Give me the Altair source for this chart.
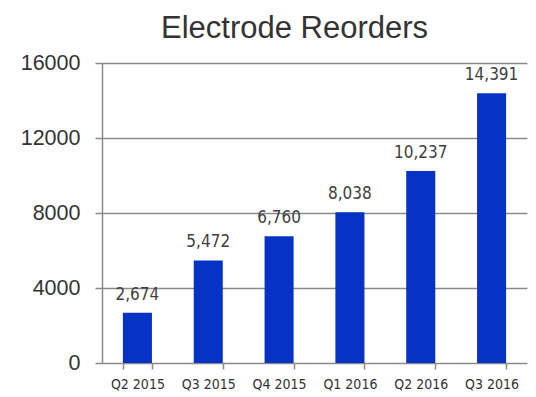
import altair as alt
import pandas as pd

quarters = ["Q2 2015", "Q3 2015", "Q4 2015", "Q1 2016", "Q2 2016", "Q3 2016"]
reorders = [2674, 5472, 6760, 8038, 10237, 14391]

df = pd.DataFrame({"quarter": quarters, "reorders": reorders})

grid_col = "#8a8a8a"

base = alt.Chart(df).encode(
    x=alt.X("quarter:N", sort=quarters, title=None,
            scale=alt.Scale(paddingInner=0.59, paddingOuter=0.295),
            axis=alt.Axis(labelAngle=0, labelFont="DejaVu Sans Condensed", labelFontSize=14,
                          labelColor="#333333", tickBand="extent", tickSize=6,
                          tickColor=grid_col, tickWidth=1.5, domain=False,
                          labelPadding=8)),
    y=alt.Y("reorders:Q", title=None,
            scale=alt.Scale(domain=[0, 16000], nice=False),
            axis=alt.Axis(values=[0, 4000, 8000, 12000, 16000], format="d",
                          labelFont="Liberation Sans", labelFontSize=21.5,
                          labelColor="#333333", grid=True, gridColor=grid_col,
                          gridWidth=1.5, tickColor=grid_col, tickSize=7, tickWidth=1.5,
                          domainColor=grid_col, domainWidth=1.5, labelPadding=15)),
)

bars = base.mark_bar(color="#0632C6")
labels = base.mark_text(baseline="alphabetic", dy=-13, font="DejaVu Sans Condensed",
                        fontSize=17, color="#404040").encode(
    text=alt.Text("reorders:Q", format=","))

chart = (bars + labels).properties(
    width=425, height=300,
    title=alt.TitleParams("Electrode Reorders", font="Liberation Sans", fontSize=31,
                          fontWeight="normal", color="#333333", anchor="middle",
                          dx=-20, offset=7),
    autosize=alt.AutoSizeParams(type="none"),
    padding={"left": 102, "top": 63, "right": 9, "bottom": 34},
).configure_view(stroke=None)

chart.save("out.html", embed_options={"renderer": "svg", "actions": False})
